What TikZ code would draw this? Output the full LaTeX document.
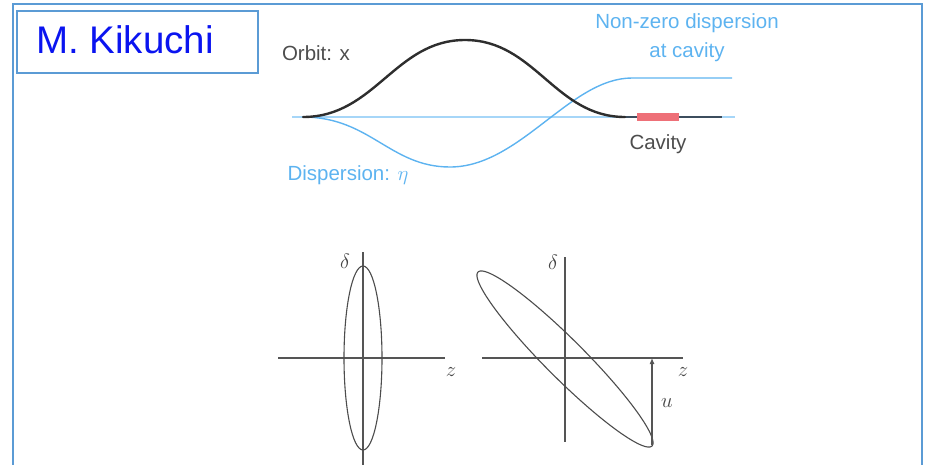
\documentclass[tikz,border=0pt]{standalone}
\usepackage{fontspec}
\setmainfont{Liberation Sans}
\usetikzlibrary{arrows.meta}
\definecolor{frameblue}{HTML}{5B9BD5}
\definecolor{nameblue}{HTML}{0A14F0}
\definecolor{dispblue}{HTML}{5DB3F0}
\definecolor{paleblue}{HTML}{A6D6F8}
\definecolor{cavred}{HTML}{EE7078}
\definecolor{orbitblack}{HTML}{2E2E2E}
\definecolor{tailgray}{HTML}{3C4E5E}
\definecolor{axisgray}{HTML}{555555}
\tikzset{
  lbl/.style={font=\fontsize{20.5}{22}\selectfont, inner sep=0pt},
  graylbl/.style={lbl, text=orbitblack!85},
  bluelbl/.style={lbl, text=dispblue},
  axisline/.style={axisgray, line width=1.1pt},
  ellipseline/.style={axisgray!90!black, line width=1.1pt},
  mathlbl/.style={font=\fontsize{20}{22}\selectfont, inner sep=0pt, text=axisgray!80!black},
}
\begin{document}
\begin{tikzpicture}[x=1pt,y=-1pt]
\useasboundingbox (0,0) rectangle (932,464);
% outer frame (bottom edge outside the picture)
\draw[frameblue, line width=2.2pt] (13,480) -- (13,4) -- (922,4) -- (922,480);
% name box
\node[draw=frameblue, line width=2pt, minimum width=241pt, minimum height=62pt, anchor=north west, inner sep=0pt] (namebox) at (16,10) {};
\node[anchor=base west, inner sep=0pt, text=nameblue, font=\fontsize{38.5}{40}\selectfont] (name) at (36,53.3) {M. Kikuchi};

% top diagram
\coordinate (bl) at (292,117);
\coordinate (br) at (735,117);
\coordinate (s) at (303,117);
\coordinate (pk) at (465,40);
\coordinate (ob) at (625,117);
\coordinate (oe) at (722,117);
\coordinate (dmin) at (450,167);
\coordinate (dpl) at (632,78);
\coordinate (de) at (732,78);
\draw[paleblue, line width=1.4pt] (bl) -- (br);
\draw[dispblue, line width=1.4pt] (s) .. controls (370,117) and (390,167) .. (dmin)
  .. controls (520,167) and (570,78) .. (dpl) -- (de);
\draw[tailgray, line width=2.3pt] (ob) -- (oe);
\draw[orbitblack, line width=2.4pt, line cap=round] (s) .. controls (375,117) and (395,40) .. (pk)
  .. controls (535,40) and (555,117) .. (ob);
\fill[cavred] (637,113) rectangle (679,121);

\node[graylbl] (orbit) at (316,53) {Orbit: x};
\node[bluelbl] (disp) at (348,175) {Dispersion: $\eta$};
\node[bluelbl] (nz1) at (687,23) {Non-zero dispersion};
\node[bluelbl] (nz2) at (687,52) {at cavity};
\node[graylbl] (cav) at (658,144) {Cavity};

% left phase plot
\coordinate (lh1) at (278,358);
\coordinate (lh2) at (445,358);
\coordinate (lv1) at (363,252);
\coordinate (lv2) at (363,470);
\draw[axisline] (lh1) -- (lh2);
\draw[axisline] (lv1) -- (lv2);
\draw[ellipseline] (363,358) ellipse [x radius=19, y radius=92];
\node[mathlbl] (ld) at (345,261) {$\delta$};
\node[mathlbl] (lz) at (451,372) {$z$};

% right phase plot
\coordinate (rh1) at (482,358);
\coordinate (rh2) at (683,358);
\coordinate (rv1) at (565,257);
\coordinate (rv2) at (565,442);
\draw[axisline] (rh1) -- (rh2);
\draw[axisline] (rv1) -- (rv2);
\draw[ellipseline] plot[domain=0:360, samples=120, smooth cycle]
  ({565+123*cos(\x)*0.7071-19.5*sin(\x)*0.7071},{359+123*cos(\x)*0.7071+19.5*sin(\x)*0.7071});
\coordinate (ab) at (652,445);
\coordinate (at) at (652,358);
\draw[axisline, -{Latex[length=6pt,width=5pt]}] (ab) -- (at);
\node[mathlbl] (rd) at (553,262) {$\delta$};
\node[mathlbl] (rz) at (683,372) {$z$};
\node[mathlbl] (ru) at (667,403) {$u$};
\end{tikzpicture}
\end{document}
